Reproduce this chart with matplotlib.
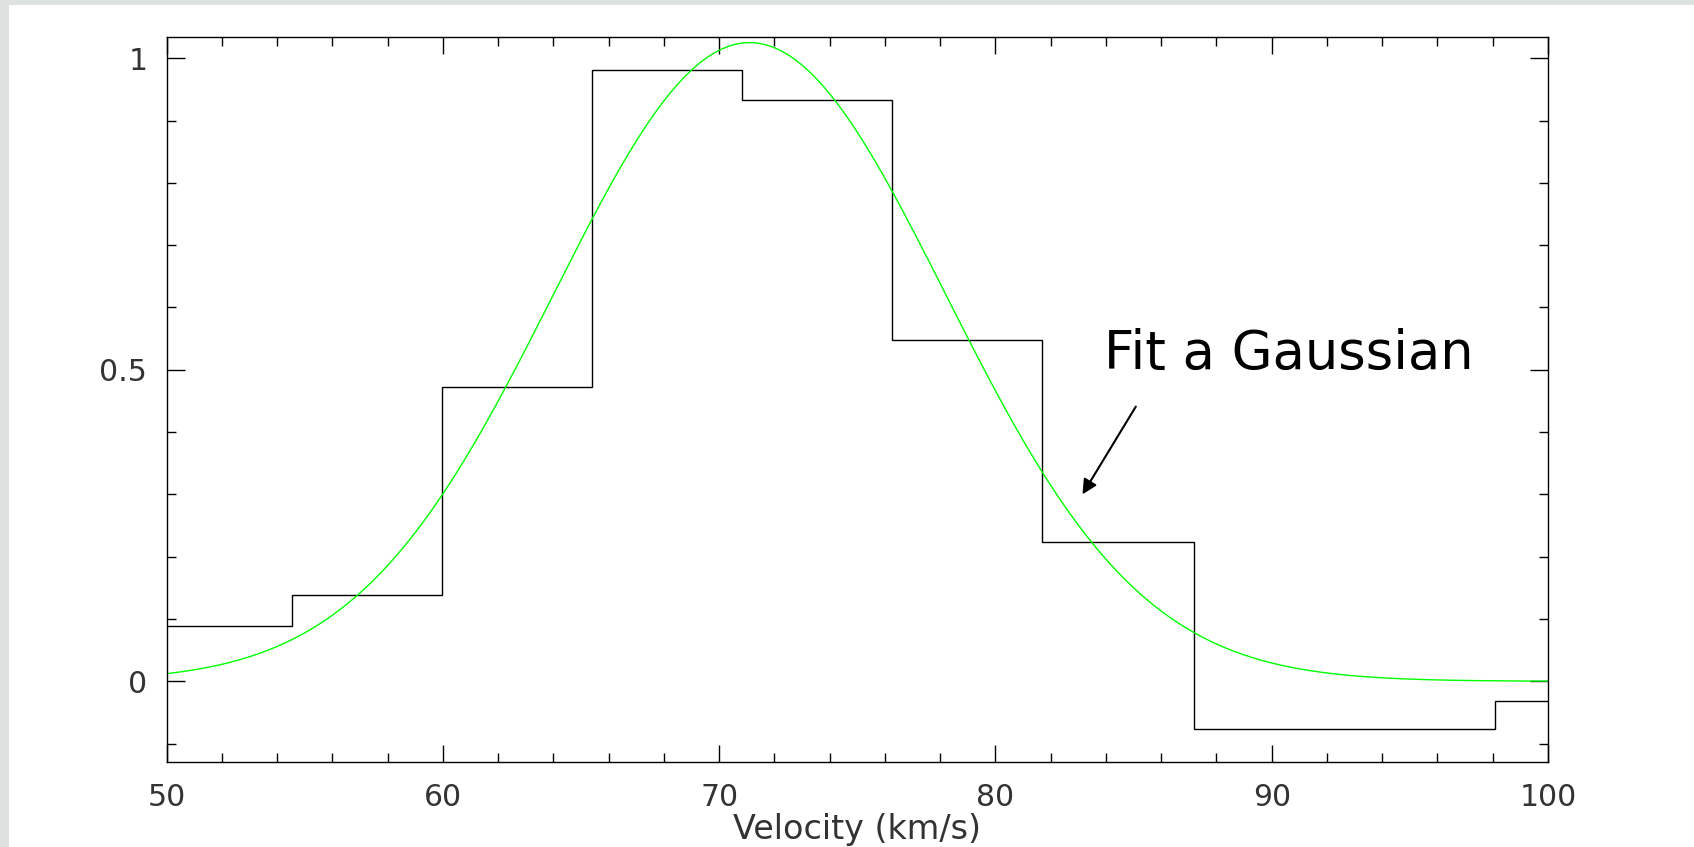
import numpy as np
import matplotlib.pyplot as plt
from matplotlib.patches import Rectangle
from matplotlib.ticker import MultipleLocator

# binned velocity profile (bin edges in km/s, normalised intensity)
bin_edges = [49.07, 54.52, 59.95, 65.40, 70.84, 76.27, 81.70, 87.17, 92.62, 98.08, 103.5]
bin_values = [0.0893, 0.138, 0.473, 0.981, 0.9326, 0.547, 0.223, -0.077, -0.076, -0.031]

# gaussian fit parameters
fit_amp = 1.025
fit_center = 71.1
fit_sigma = 7.09

x_ticks = [50, 60, 70, 80, 90, 100]
y_ticks = [0, 0.5, 1]
y_tick_labels = ["0", "0.5", "1"]

fig = plt.figure(figsize=(16.94, 8.47), dpi=100, facecolor="#dde1e0")
# white page on the grey background
page = Rectangle((9 / 1694, 0), 1, 1 - 5 / 847, transform=fig.transFigure,
                 facecolor="white", edgecolor="none", zorder=-10)
fig.add_artist(page)

ax = fig.add_axes([0.0984, 0.1004, 0.8154, 0.8559])
ax.set_facecolor("white")

ax.stairs(bin_values, bin_edges, baseline=None, color="black", linewidth=1.0)

xs = np.linspace(50, 100, 600)
ys = fit_amp * np.exp(-(xs - fit_center) ** 2 / (2 * fit_sigma ** 2))
ax.plot(xs, ys, color="#00ff00", linewidth=1.0)

ax.set_xlim(50, 100)
ax.set_ylim(-0.1295, 1.034)

ax.set_xticks(x_ticks)
ax.set_yticks(y_ticks, y_tick_labels)
ax.xaxis.set_minor_locator(MultipleLocator(2))
ax.yaxis.set_minor_locator(MultipleLocator(0.1))

ax.tick_params(which="both", direction="in", top=True, right=True, width=1.0,
               colors="black", labelcolor="#333333", labelsize=21.5)
ax.tick_params(axis="x", which="major", length=12.5, pad=15)
ax.tick_params(axis="y", which="major", length=13, pad=14)
ax.tick_params(which="minor", length=6.5)

for s in ax.spines.values():
    s.set_linewidth(1.0)
    s.set_color("black")

ax.set_xlabel("Velocity (km/s)", fontsize=24, color="#333333")
ax.xaxis.set_label_coords(0.5, -0.0703)

ax.text(83.92, 0.501, "Fit a Gaussian", fontsize=38, color="black",
        ha="left", va="baseline")
ax.annotate("", xy=(83.15, 0.300), xytext=(85.08, 0.4408),
            arrowprops=dict(arrowstyle="-|>", color="black", lw=1.5,
                            mutation_scale=22, shrinkA=0, shrinkB=0))

fig.savefig("out.png", dpi=100, facecolor=fig.get_facecolor())
